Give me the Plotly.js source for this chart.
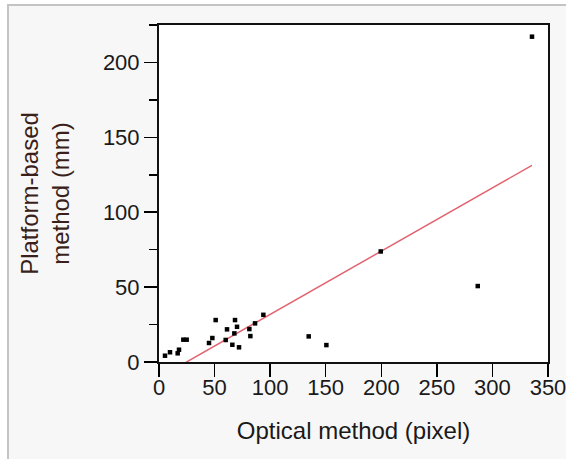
<!DOCTYPE html>
<html>
<head>
<meta charset="utf-8">
<script src="https://cdn.plot.ly/plotly-3.0.1.min.js"></script>
<style>html,body{margin:0;padding:0;background:#fff;}#chart{width:566px;height:459px;}</style>
</head>
<body>
<div id="chart"></div>
<script>
// Observed points: optical method (pixel) vs platform-based method (mm)
var opticalX = [5.4, 9.9, 16.8, 18.0, 21.9, 24.9, 45.0, 48.0, 51.0, 60.0, 61.2, 66.0, 68.4, 67.8, 70.2, 72.0, 81.3, 82.2, 86.4, 93.9, 134.7, 150.6, 199.5, 286.8, 335.6];
var platformY = [4.2, 6.5, 5.8, 8.2, 14.9, 14.9, 12.7, 16.0, 28.0, 14.7, 21.8, 11.5, 28.0, 19.1, 23.5, 9.8, 22.0, 17.3, 25.8, 31.5, 17.1, 11.3, 73.8, 50.7, 217.2];
// Fitted line end points
var fitX = [5.4, 335.6];
var fitY = [-8.2, 131.3];
var xTicks = [0, 50, 100, 150, 200, 250, 300, 350];
var yTicks = [0, 50, 100, 150, 200];

var traces = [
  {x: fitX, y: fitY, mode: 'lines', line: {color: '#e2636f', width: 1.5}, hoverinfo: 'skip', showlegend: false},
  {x: opticalX, y: platformY, mode: 'markers', marker: {symbol: 'square', size: 4.5, color: '#000'}, showlegend: false}
];

var fnt = 'Liberation Sans, Arial, sans-serif';
var layout = {
  width: 566, height: 459,
  margin: {l: 159, r: 18, t: 25, b: 97},
  paper_bgcolor: '#ffffff',
  plot_bgcolor: '#ffffff',
  showlegend: false,
  font: {family: fnt, color: '#1a1a1a'},
  shapes: [
    {type: 'rect', xref: 'paper', yref: 'paper', x0: -0.3882, x1: 1.39, y0: -1.0, y1: 1.0593, fillcolor: '#f7f7f7', line: {color: '#c4c4c4', width: 2}, layer: 'below'},
    {type: 'rect', xref: 'paper', yref: 'paper', x0: 0, x1: 1, y0: 0, y1: 1, fillcolor: '#ffffff', line: {width: 0}, layer: 'below'}
  ],
  xaxis: {
    range: [0, 350], tickvals: xTicks, ticktext: xTicks.map(String),
    ticks: 'outside', ticklen: 13, tickwidth: 1.5, tickcolor: '#000',
    ticklabeloverflow: 'allow', ticklabelstandoff: -8,
    showline: true, linecolor: '#111', linewidth: 2, mirror: true,
    showgrid: false, zeroline: false, automargin: 'bottom',
    tickfont: {family: fnt, size: 22, color: '#1a1a1a'},
    title: {text: 'Optical method (pixel)', standoff: 23, font: {family: fnt, size: 24, color: '#1a1a1a'}}
  },
  yaxis: {
    range: [0, 225], tickvals: yTicks, ticktext: yTicks.map(String),
    ticks: 'outside', ticklen: 13, tickwidth: 1.5, tickcolor: '#000',
    minor: {dtick: 25, ticks: 'outside', ticklen: 8, tickwidth: 1.5, tickcolor: '#000', showgrid: false},
    showline: true, linecolor: '#111', linewidth: 2, mirror: true,
    showgrid: false, zeroline: false, automargin: 'left',
    tickfont: {family: fnt, size: 22, color: '#1a1a1a'},
    title: {text: 'Platform-based<br>method (mm)', standoff: 26, font: {family: fnt, size: 24, color: '#3a1f1a'}}
  }
};
Plotly.newPlot('chart', traces, layout, {displayModeBar: false, staticPlot: true});
</script>
</body>
</html>
